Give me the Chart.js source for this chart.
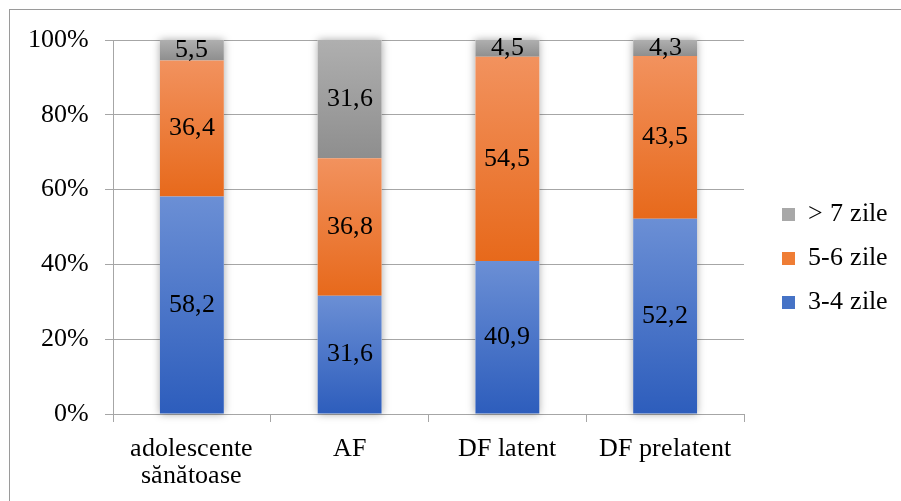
<!DOCTYPE html>
<html>
<head>
<meta charset="utf-8">
<title>Zile</title>
<script src="https://cdn.jsdelivr.net/npm/chart.js"></script>
<style>
  @font-face { font-family: 'ChartSerif'; src: local('Liberation Serif'), local('LiberationSerif'), local('Times New Roman'); }
  html, body { margin:0; padding:0; background:#fff; overflow:hidden; }
  #wrap { position:relative; width:901px; height:501px; }
  #frame { position:absolute; left:9px; top:9px; width:900px; height:500px; border-left:1px solid #9a9a9a; border-top:1px solid #9a9a9a; }
  canvas { position:absolute; left:0; top:0; }
</style>
</head>
<body>
<div id="wrap">
  <div id="frame"></div>
  <canvas id="chart" width="901" height="501"></canvas>
</div>
<script>
const categories = [['adolescente', 'sănătoase'], 'AF', 'DF latent', 'DF prelatent'];
const seriesNames = ['3-4 zile', '5-6 zile', '> 7 zile'];
const zile34 = [58.2, 31.6, 40.9, 52.2];
const zile56 = [36.4, 36.8, 54.5, 43.5];
const zile7 = [5.5, 31.6, 4.5, 4.3];
const yTicks = [0, 20, 40, 60, 80, 100];

const raw = [zile34, zile56, zile7];
const legendColors = ['#4673c6', '#ef7d35', '#a8a8a8'];
const gradients = [['#6b8fd5', '#2d5dbc'], ['#f2925e', '#e7691b'], ['#afafaf', '#8e8e8e']];
const serif = 'ChartSerif, "Liberation Serif", serif';

// 100% stacked: each category scaled to its total
const totals = categories.map((_, j) => raw.reduce((s, arr) => s + arr[j], 0));
const pct = raw.map(arr => arr.map((v, j) => v / totals[j] * 100));

function segmentFill(i) {
  return (ctx) => {
    const chart = ctx.chart;
    const y = chart.scales && chart.scales.y;
    if (!y || ctx.type !== 'data') return legendColors[i];
    const j = ctx.dataIndex;
    let start = 0;
    for (let k = 0; k < i; k++) start += pct[k][j];
    const top = y.getPixelForValue(start + pct[i][j]);
    const bottom = y.getPixelForValue(start);
    const g = chart.ctx.createLinearGradient(0, top, 0, bottom);
    g.addColorStop(0, gradients[i][0]);
    g.addColorStop(1, gradients[i][1]);
    return g;
  };
}

const barShadow = {
  id: 'barShadow',
  beforeDatasetsDraw(chart) {
    const c = chart.ctx;
    const first = chart.getDatasetMeta(0).data;
    const last = chart.getDatasetMeta(raw.length - 1).data;
    c.save();
    c.shadowColor = 'rgba(0,0,0,0.35)';
    c.shadowBlur = 8;
    c.fillStyle = '#fff';
    first.forEach((el, j) => {
      const top = last[j].y;
      c.fillRect(el.x - el.width / 2, top, el.width, el.base - top);
    });
    c.restore();
  }
};

const valueLabels = {
  id: 'valueLabels',
  afterDatasetsDraw(chart) {
    const c = chart.ctx;
    c.save();
    c.font = '26px ' + serif;
    c.fillStyle = '#000';
    c.textAlign = 'center';
    c.textBaseline = 'middle';
    raw.forEach((arr, i) => {
      chart.getDatasetMeta(i).data.forEach((el, j) => {
        c.fillText(arr[j].toFixed(1).replace('.', ','), el.x, (el.y + el.base) / 2);
      });
    });
    c.restore();
  }
};

const legendShift = {
  id: 'legendShift',
  afterLayout(chart) {
    const lg = chart.legend;
    lg.left += 20; lg.right += 20;
    lg.top -= 12; lg.bottom -= 12;
  }
};

function draw() {
  new Chart(document.getElementById('chart').getContext('2d'), {
    type: 'bar',
    data: {
      labels: categories,
      datasets: seriesNames.map((name, i) => ({
        label: name,
        data: pct[i],
        backgroundColor: segmentFill(i),
        borderWidth: 0,
        categoryPercentage: 1,
        barPercentage: 0.405
      }))
    },
    options: {
      responsive: false,
      animation: false,
      devicePixelRatio: 1,
      layout: { padding: { left: 12, top: 40, right: 23, bottom: 0 } },
      plugins: {
        tooltip: { enabled: false },
        legend: {
          position: 'right',
          reverse: true,
          labels: {
            boxWidth: 13,
            boxHeight: 13,
            padding: 18,
            color: '#000',
            font: { family: serif, size: 26 },
            generateLabels: (chart) => chart.data.datasets.map((ds, i) => ({
              text: ds.label,
              fillStyle: legendColors[i],
              strokeStyle: legendColors[i],
              lineWidth: 0,
              datasetIndex: i,
              hidden: false
            }))
          }
        }
      },
      scales: {
        x: {
          stacked: true,
          afterFit: (s) => { s.height = 87; },
          grid: { drawOnChartArea: false, tickLength: 8, color: '#a6a6a6' },
          border: { color: '#a6a6a6' },
          ticks: { color: '#000', padding: 13, font: { family: serif, size: 26, lineHeight: 1.06 } }
        },
        y: {
          stacked: true,
          min: 0,
          max: 100,
          afterBuildTicks: (scale) => { scale.ticks = yTicks.map(v => ({ value: v })); },
          grid: { tickLength: 8, color: '#a6a6a6' },
          border: { color: '#a6a6a6' },
          ticks: { color: '#000', padding: 16, font: { family: serif, size: 26 }, callback: v => v + '%' }
        }
      }
    },
    plugins: [barShadow, valueLabels, legendShift]
  });
}

document.fonts.load('26px ChartSerif').then(draw, draw);
</script>
</body>
</html>
